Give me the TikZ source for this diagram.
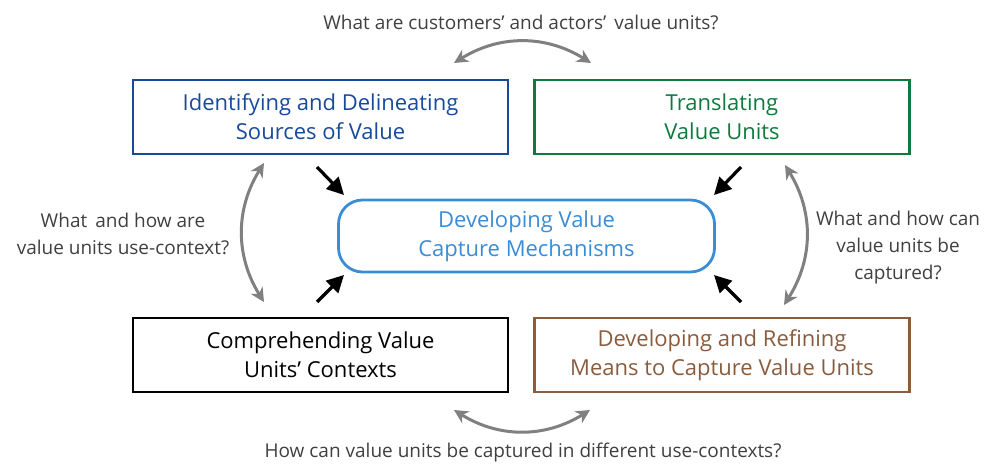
\documentclass[tikz,border=0pt]{standalone}
\usepackage{fontspec}
\setmainfont{Open Sans}
\usetikzlibrary{positioning,arrows.meta,calc}
\definecolor{boxblue}{RGB}{24,74,156}
\definecolor{boxgreen}{RGB}{14,122,62}
\definecolor{midblue}{RGB}{58,141,213}
\definecolor{boxbrown}{RGB}{138,92,62}
\definecolor{qgray}{RGB}{64,64,64}
\definecolor{arcgray}{RGB}{128,128,128}
\begin{document}
\begin{tikzpicture}[
  x=0.5pt,y=-0.5pt,
  font=\fontsize{11}{14.5}\selectfont,
  box/.style={draw,line width=1.4pt,minimum width=187.5pt,minimum height=37pt,align=center,inner sep=2pt},
  question/.style={font=\fontsize{9.5}{13.5}\selectfont,text=qgray,align=center},
  loop/.style={draw=arcgray,line width=1.5pt,{Stealth[length=7pt,width=7pt]}-{Stealth[length=7pt,width=7pt]}},
  push/.style={line width=1.6pt,-{Triangle[length=8.5pt,width=8.5pt]}},
]
  \useasboundingbox (0,0) rectangle (989,466);
  % boxes
  \node[box,draw=boxblue,text=boxblue] (ident) at (320.5,117) {Identifying and Delineating\\Sources of Value};
  \node[box,draw=boxgreen,text=boxgreen] (transl) at (722,117) {Translating\\Value Units};
  \node[box,draw=midblue,text=midblue,minimum width=188pt,minimum height=36pt,rounded corners=12pt] (capture) at (526.5,236) {Developing Value\\Capture Mechanisms};
  \node[box,draw=black,text=black] (compr) at (320.5,355) {Comprehending Value\\Units' Contexts};
  \node[box,draw=boxbrown,text=boxbrown] (refine) at (722,355) {Developing and Refining\\Means to Capture Value Units};
  % questions
  \node[question] (qtop) at (521,22) {What are customers' and actors'\, value units?};
  \node[question] (qbot) at (523,453) {How can value units be captured in different use-contexts?};
  \node[question] (qleft) at (123,234) {What\, and how are\\value units use-context?};
  \node[question] (qright) at (898,248) {What and how can\\value units be\\captured?};
  % arc ends
  \coordinate (t1) at (454,63);  \coordinate (t2) at (591,63);
  \coordinate (b1) at (454,410); \coordinate (b2) at (590,410);
  \coordinate (l1) at (264,163); \coordinate (l2) at (264,302);
  \coordinate (r1) at (785,165); \coordinate (r2) at (784,305);
  \draw[loop] (t1) to[bend left=32] (t2);
  \draw[loop] (b1) to[bend right=32] (b2);
  \draw[loop] (l1) to[bend right=32] (l2);
  \draw[loop] (r1) to[bend left=32] (r2);
  % arrows into the centre
  \coordinate (a1) at (317,167); \coordinate (a2) at (344,195);
  \coordinate (a3) at (741,167); \coordinate (a4) at (714,195);
  \coordinate (a5) at (317,302); \coordinate (a6) at (344,275);
  \coordinate (a7) at (741,302); \coordinate (a8) at (714,275);
  \draw[push] (a1) -- (a2);
  \draw[push] (a3) -- (a4);
  \draw[push] (a5) -- (a6);
  \draw[push] (a7) -- (a8);
\end{tikzpicture}
\end{document}
